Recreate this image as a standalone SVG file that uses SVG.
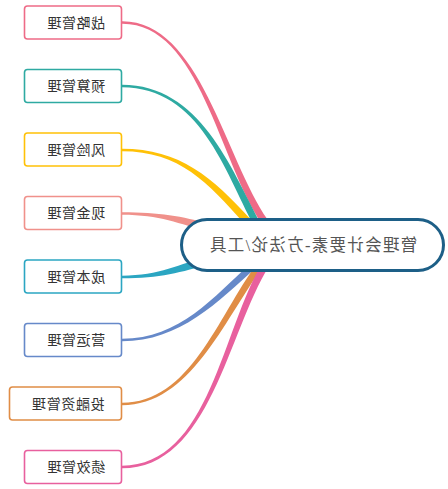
<svg xmlns="http://www.w3.org/2000/svg" width="448" height="489" viewBox="0 0 448 489">
<style>
.box{fill:#fff;stroke-width:1.6}
.lbl{font-family:"Liberation Sans","Noto Sans CJK SC",sans-serif;font-size:14px;fill:#333;text-anchor:middle;letter-spacing:0.6px}
.main{font-family:"Liberation Serif","Noto Sans CJK SC",serif;font-size:16.5px;fill:#555;text-anchor:middle;letter-spacing:1.3px}
</style>
<rect width="448" height="489" fill="#fff"/>
<g id="connectors">
<path fill="#ee6b87" d="M122,23.8 C200,23.3 219.1,162 262.1,224 L267.9,220 C224.9,158 200,20.7 122,21.2 Z"/>
<path fill="#2eaaa2" d="M122,87.3 C200,87.3 224.9,171.6 253.9,225.6 L260.1,222.4 C231.1,168.4 200,84.7 122,84.7 Z"/>
<path fill="#ffc107" d="M122,151.3 C180,151.3 207.2,182.5 245.2,224.5 L250.8,219.5 C212.8,177.5 180,148.7 122,148.7 Z"/>
<path fill="#f0918b" d="M122,214.8 C160,214.8 179,223.9 209,231.9 L211,224.1 C181,216.1 160,212.2 122,212.2 Z"/>
<path fill="#2ba6c2" d="M122,278.3 C160,278.3 181,271.9 211,263.9 L209,256.1 C179,264.1 160,275.7 122,275.7 Z"/>
<path fill="#6689c9" d="M122,341.3 C180,341.3 217.3,302.6 257.3,266.6 L252.7,261.4 C212.7,297.4 180,338.7 122,338.7 Z"/>
<path fill="#e08d46" d="M122,405.3 C190,405.3 222.8,322.1 262.8,267.1 L257.2,262.9 C217.2,317.9 190,402.7 122,402.7 Z"/>
<path fill="#e8609e" d="M122,468.3 C210,468.3 228,331.9 269,265.9 L263,262.1 C222,328.1 210,465.7 122,465.7 Z"/>
</g>
<g id="center">
<rect x="181.5" y="219.5" width="262" height="51" rx="25.5" fill="#fff" stroke="#1d5f87" stroke-width="3"/>
<text class="main" transform="scale(-1,1)" x="-313" y="251">管理会计要素-方法论/工具</text>
</g>
<g id="n1"><rect class="box" x="24.5" y="6" width="97" height="33" rx="3" stroke="#ee6b87"/><text class="lbl" transform="scale(-1,1)" x="-76" y="27.5">战略管理</text></g>
<g id="n2"><rect class="box" x="24.5" y="69.5" width="97" height="33" rx="3" stroke="#2eaaa2"/><text class="lbl" transform="scale(-1,1)" x="-76" y="91">预算管理</text></g>
<g id="n3"><rect class="box" x="24.5" y="133" width="97" height="33" rx="3" stroke="#ffc107"/><text class="lbl" transform="scale(-1,1)" x="-76" y="154.5">风险管理</text></g>
<g id="n4"><rect class="box" x="24.5" y="196.5" width="97" height="33" rx="3" stroke="#f0918b"/><text class="lbl" transform="scale(-1,1)" x="-76" y="218">现金管理</text></g>
<g id="n5"><rect class="box" x="24.5" y="260" width="97" height="33" rx="3" stroke="#2ba6c2"/><text class="lbl" transform="scale(-1,1)" x="-76" y="281.5">成本管理</text></g>
<g id="n6"><rect class="box" x="24.5" y="323.5" width="97" height="33" rx="3" stroke="#6689c9"/><text class="lbl" transform="scale(-1,1)" x="-76" y="345">营运管理</text></g>
<g id="n7"><rect class="box" x="9.5" y="387" width="112" height="33" rx="3" stroke="#e08d46"/><text class="lbl" transform="scale(-1,1)" x="-68" y="408.5">投融资管理</text></g>
<g id="n8"><rect class="box" x="24.5" y="450.5" width="97" height="33" rx="3" stroke="#e8609e"/><text class="lbl" transform="scale(-1,1)" x="-76" y="472">绩效管理</text></g>
</svg>
